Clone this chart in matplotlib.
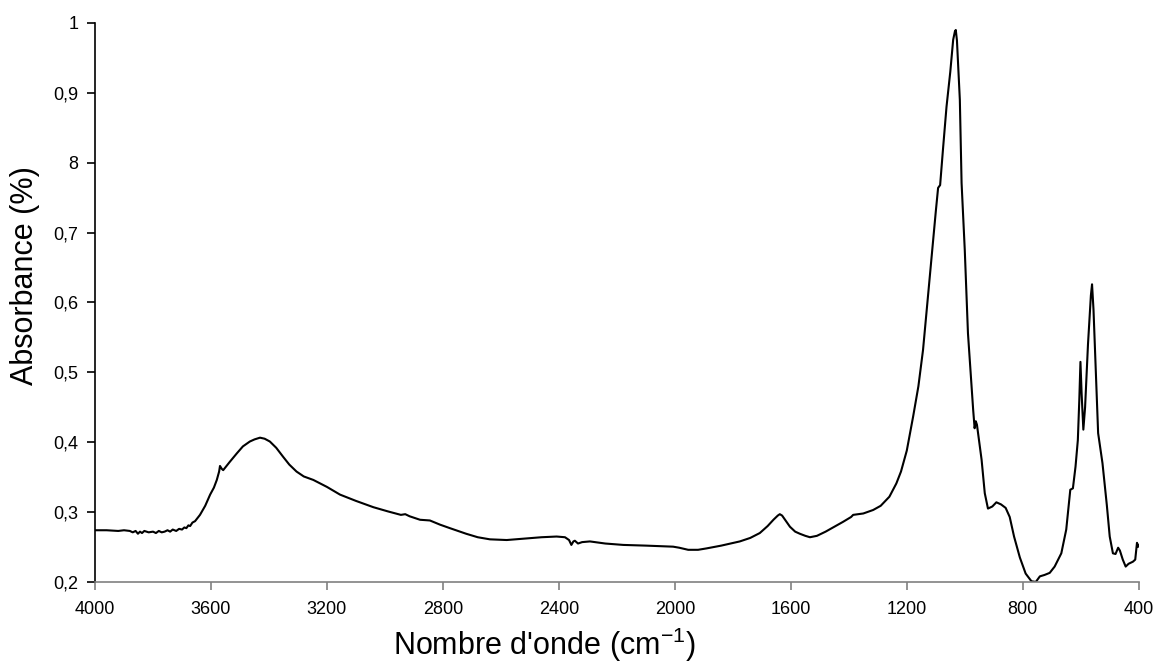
import matplotlib
matplotlib.use("Agg")
import matplotlib.pyplot as plt

plt.rcParams['font.family'] = ['Liberation Sans', 'DejaVu Sans']
plt.rcParams['mathtext.fontset'] = 'custom'
plt.rcParams['mathtext.rm'] = 'Liberation Sans'

# spectre IR
nombre_onde = [4000, 3960, 3920, 3900, 3880, 3870, 3860, 3852, 3845, 3838, 3830,
               3815, 3800, 3790, 3780, 3770, 3760, 3750, 3741, 3732, 3720, 3710,
               3700, 3692, 3685, 3678, 3672, 3664, 3655, 3638, 3620, 3603, 3590,
               3580, 3572, 3569, 3563, 3558, 3535, 3511, 3490, 3466, 3450, 3431,
               3415, 3397, 3375, 3351, 3330, 3305, 3280, 3247, 3200, 3155, 3100,
               3040, 2990, 2945, 2930, 2915, 2879, 2845, 2810, 2776, 2720, 2680,
               2638, 2580, 2520, 2460, 2408, 2379, 2365, 2357, 2350, 2345, 2334,
               2320, 2293, 2240, 2178, 2100, 2040, 2006, 1985, 1954, 1920, 1891,
               1840, 1776, 1740, 1707, 1680, 1660, 1645, 1638, 1630, 1615, 1603,
               1585, 1569, 1550, 1534, 1510, 1480, 1450, 1420, 1400, 1392, 1385,
               1350, 1316, 1290, 1260, 1236, 1220, 1200, 1178, 1160, 1144, 1128,
               1109, 1100, 1092, 1085, 1075, 1063, 1050, 1040, 1034, 1031, 1027,
               1017, 1011, 1000, 989, 980, 971, 966, 962, 958, 950, 942, 931, 920,
               905, 891, 875, 859, 845, 830, 810, 790, 770, 755, 741, 725, 707,
               690, 667, 650, 640, 636, 627, 618, 610, 605, 601, 597, 591, 585,
               575, 565, 561, 556, 548, 540, 525, 510, 500, 489, 480, 471, 465,
               455, 445, 435, 420, 412, 406, 403, 400]
absorbance = [0.274, 0.274, 0.273, 0.274, 0.273, 0.271, 0.273, 0.269, 0.272, 0.270, 0.273,
              0.271, 0.272, 0.270, 0.273, 0.271, 0.272, 0.274, 0.272, 0.275, 0.273, 0.276,
              0.275, 0.278, 0.277, 0.281, 0.280, 0.285, 0.287, 0.296, 0.309, 0.325, 0.335,
              0.346, 0.358, 0.366, 0.362, 0.360, 0.372, 0.384, 0.394, 0.401, 0.404, 0.4065,
              0.405, 0.401, 0.392, 0.379, 0.368, 0.358, 0.351, 0.346, 0.336, 0.325, 0.316,
              0.307, 0.301, 0.296, 0.297, 0.294, 0.289, 0.288, 0.282, 0.277, 0.269, 0.264,
              0.261, 0.260, 0.262, 0.264, 0.265, 0.264, 0.260, 0.253, 0.258, 0.259, 0.255,
              0.257, 0.258, 0.255, 0.253, 0.252, 0.251, 0.2505, 0.249, 0.246, 0.246, 0.248,
              0.252, 0.258, 0.263, 0.270, 0.280, 0.289, 0.295, 0.297, 0.295, 0.286, 0.279,
              0.272, 0.269, 0.266, 0.264, 0.266, 0.272, 0.279, 0.286, 0.291, 0.293, 0.296,
              0.298, 0.303, 0.309, 0.322, 0.341, 0.358, 0.388, 0.437, 0.480, 0.532, 0.604,
              0.689, 0.730, 0.764, 0.768, 0.820, 0.880, 0.930, 0.976, 0.988, 0.990, 0.975,
              0.890, 0.771, 0.675, 0.556, 0.500, 0.446, 0.420, 0.430, 0.425, 0.400, 0.375,
              0.327, 0.305, 0.308, 0.314, 0.311, 0.306, 0.293, 0.265, 0.235, 0.212, 0.201,
              0.200, 0.208, 0.210, 0.213, 0.222, 0.241, 0.275, 0.315, 0.332, 0.334, 0.365,
              0.403, 0.460, 0.515, 0.470, 0.418, 0.450, 0.540, 0.610, 0.626, 0.590, 0.500,
              0.413, 0.370, 0.310, 0.265, 0.241, 0.240, 0.249, 0.245, 0.232, 0.222, 0.226,
              0.229, 0.232, 0.256, 0.250, 0.253]

x_ticks = [4000, 3600, 3200, 2800, 2400, 2000, 1600, 1200, 800, 400]
y_ticks = [0.2, 0.3, 0.4, 0.5, 0.6, 0.7, 0.8, 0.9, 1.0]
y_labels = ["0,2", "0,3", "0,4", "0,5", "0,6", "0,7", "8", "0,9", "1"]

fig = plt.figure(figsize=(11.59, 6.72), dpi=100)
ax = fig.add_axes([0.082, 0.134, 0.9005, 0.8318])
ax.plot(nombre_onde, absorbance, color="black", lw=1.5)

ax.set_xlim(4000, 400)
ax.set_ylim(0.2, 1.0)
ax.set_xticks(x_ticks)
ax.set_xticklabels([str(v) for v in x_ticks])
ax.set_yticks(y_ticks)
ax.set_yticklabels(y_labels)

for s in ["top", "right"]:
    ax.spines[s].set_visible(False)
ax.spines["bottom"].set_color("#808080")
ax.spines["bottom"].set_linewidth(1.2)
ax.spines["left"].set_linewidth(1.2)
ax.tick_params(axis="x", direction="out", length=6, width=1.2, color="#808080",
               labelsize=13, pad=8)
ax.tick_params(axis="y", direction="out", length=6, width=1.2, color="black",
               labelsize=13, pad=6)

fig.text(0.470, 0.040, "Nombre d'onde (cm$^{\\mathrm{-1}}$)", ha="center", va="center", fontsize=22)
fig.text(0.022, 0.590, "Absorbance (%)", ha="center", va="center", rotation=90, fontsize=22)

fig.savefig("out.png", dpi=100)
